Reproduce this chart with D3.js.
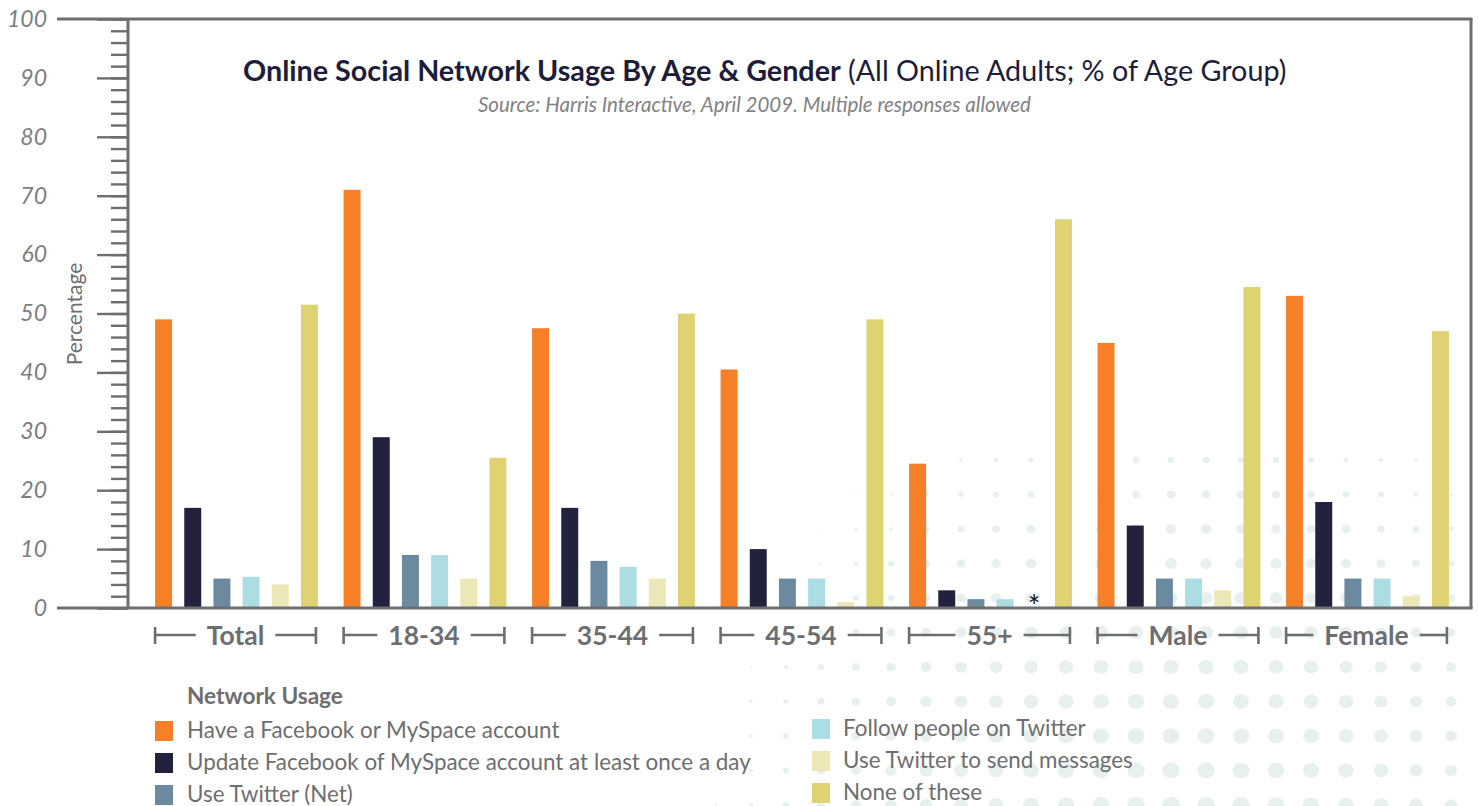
<!DOCTYPE html>
<html>
<head>
<meta charset="utf-8">
<script src="https://cdn.jsdelivr.net/npm/d3@7/dist/d3.min.js"></script>
<style>
  html, body { margin: 0; padding: 0; background: #ffffff; }
  svg { display: block; }
  text { font-family: Lato, "Open Sans", sans-serif; }
</style>
</head>
<body>
<svg id="chart" width="1478" height="806"></svg>
<script>
// ---------- DATA ----------
const groups = ["Total", "18-34", "35-44", "45-54", "55+", "Male", "Female"];
const seriesNames = [
  "Have a Facebook or MySpace account",
  "Update Facebook of MySpace account at least once a day",
  "Use Twitter (Net)",
  "Follow people on Twitter",
  "Use Twitter to send messages",
  "None of these"
];
const seriesColors = ["#f58027", "#22223f", "#6b8aa0", "#acdde3", "#ece7b6", "#dfd273"];
const haveAccount   = [49, 71, 47.5, 40.5, 24.5, 45, 53];
const updateDaily   = [17, 29, 17, 10, 3, 14, 18];
const useTwitterNet = [5, 9, 8, 5, 1.5, 5, 5];
const followTwitter = [5.3, 9, 7, 5, 1.5, 5, 5];
const sendMessages  = [4, 5, 5, 1, null, 3, 2];   // null = "*" (less than 0.5%)
const noneOfThese   = [51.5, 25.5, 50, 49, 66, 54.5, 47];
const seriesValues = [haveAccount, updateDaily, useTwitterNet, followTwitter, sendMessages, noneOfThese];
const yMajorTicks = [0, 10, 20, 30, 40, 50, 60, 70, 80, 90, 100];
const yMinorTicks = d3.range(0, 101, 2);
const titleBold = "Online Social Network Usage By Age & Gender";
const titleRest = " (All Online Adults; % of Age Group)";
const subtitle = "Source: Harris Interactive, April 2009. Multiple responses allowed";
const yTitle = "Percentage";
const legendTitle = "Network Usage";

// ---------- LAYOUT ----------
const svg = d3.select("#chart");
const axisX = 128, frameLeft = 57, frameRight = 1471, plotTop = 19, plotBase = 608;
const gray = "#6d6e71";

const y = d3.scaleLinear().domain([0, 100]).range([plotBase, plotTop]);
const x0 = d3.scaleBand().domain(groups).range([142.25, 1461.75]).padding(0);
const x1 = d3.scaleBand().domain(d3.range(seriesNames.length))
  .range([0, x0.bandwidth()]).paddingInner(0.418).paddingOuter(0.44);

// ---------- BACKGROUND DOTS ----------
const dotG = svg.append("g");
const dotXs = d3.range(681, 1480, 35);
const dotYs = d3.range(460, 812, 34.5);
const cX = 1180, cY = 850, R = 500, rMax = 8.5;
dotYs.forEach(dy => dotXs.forEach(dx => {
  const d = Math.hypot(dx - cX, dy - cY);
  const r = rMax * (1 - (d / R) * (d / R));
  if (r > 0.6) {
    dotG.append("ellipse").attr("cx", dx).attr("cy", dy)
      .attr("rx", r * 1.04).attr("ry", r * 0.96).attr("fill", "#e8efef");
  }
}));

// ---------- BARS ----------
const barData = [];
groups.forEach((g, gi) => seriesValues.forEach((vals, si) => {
  barData.push({ g, si, v: vals[gi] });
}));
svg.append("g").selectAll("rect").data(barData.filter(d => d.v !== null)).join("rect")
  .attr("x", d => x0(d.g) + x1(d.si))
  .attr("y", d => y(d.v))
  .attr("width", x1.bandwidth())
  .attr("height", d => y(0) - y(d.v))
  .attr("fill", d => seriesColors[d.si]);
svg.append("g").selectAll("text").data(barData.filter(d => d.v === null)).join("text")
  .attr("x", d => x0(d.g) + x1(d.si) + x1.bandwidth() / 2)
  .attr("y", 617)
  .attr("text-anchor", "middle")
  .attr("font-family", "DejaVu Sans, sans-serif")
  .attr("font-size", 30).attr("fill", "#1a1a1a")
  .text("*");

// ---------- AXES / FRAME ----------
const minorAxis = d3.axisLeft(y).tickValues(yMinorTicks).tickSize(17).tickFormat("");
const gMinor = svg.append("g").attr("transform", `translate(${axisX},0)`).call(minorAxis);
gMinor.select(".domain").remove();
gMinor.selectAll("line").attr("stroke", gray).attr("stroke-width", 2.4);

const majorAxis = d3.axisLeft(y).tickValues(yMajorTicks).tickSize(31).tickPadding(50)
  .tickFormat(d3.format("d"));
const gMajor = svg.append("g").attr("transform", `translate(${axisX},0)`).call(majorAxis);
gMajor.select(".domain").remove();
gMajor.selectAll("line").attr("stroke", gray).attr("stroke-width", 2.4);
gMajor.selectAll("text").attr("font-family", "Lato, sans-serif").attr("font-style", "italic")
  .attr("font-size", 23).attr("fill", "#7d7e81");

const frame = svg.append("g").attr("stroke", gray).attr("stroke-width", 3).attr("fill", "none");
frame.append("line").attr("x1", axisX).attr("x2", axisX).attr("y1", plotTop).attr("y2", plotBase);
frame.append("line").attr("x1", frameLeft).attr("x2", frameRight + 1.5).attr("y1", plotTop).attr("y2", plotTop);
frame.append("line").attr("x1", frameLeft).attr("x2", frameRight + 1.5).attr("y1", plotBase).attr("y2", plotBase);
frame.append("line").attr("x1", frameRight).attr("x2", frameRight).attr("y1", plotTop).attr("y2", plotBase);

// ---------- GROUP LABELS WITH BRACKETS ----------
const labG = svg.append("g");
groups.forEach(g => {
  const left = x0(g) + x1(0);
  const right = x0(g) + x1(seriesNames.length - 1) + x1.bandwidth() - 2;
  const mid = (left + right) / 2;
  const t = labG.append("text").attr("x", mid).attr("y", 645)
    .attr("text-anchor", "middle").attr("font-weight", 700).attr("font-size", 26.5)
    .attr("fill", gray).text(g);
  const w = t.node().getComputedTextLength();
  const gap = 11, ly = 635;
  const br = labG.append("g").attr("stroke", gray).attr("stroke-width", 2.6);
  br.append("line").attr("x1", left).attr("x2", left).attr("y1", 627).attr("y2", 644);
  br.append("line").attr("x1", left).attr("x2", mid - w / 2 - gap).attr("y1", ly).attr("y2", ly);
  br.append("line").attr("x1", right).attr("x2", right).attr("y1", 627).attr("y2", 644);
  br.append("line").attr("x1", mid + w / 2 + gap).attr("x2", right).attr("y1", ly).attr("y2", ly);
});

// ---------- TITLES ----------
function fitFont(sel, target, start) {
  sel.attr("font-size", start);
  const w = sel.node().getComputedTextLength();
  const fs = start * target / w;
  sel.attr("font-size", fs);
  return fs;
}
const title = svg.append("text").attr("x", 243).attr("y", 81).attr("fill", "#1d1d3b");
title.append("tspan").attr("font-weight", 700).text(titleBold);
title.append("tspan").attr("font-weight", 400).text(titleRest);
fitFont(title, 1044, 24);

const sub = svg.append("text").attr("x", 478).attr("y", 112).attr("fill", "#818285")
  .attr("font-style", "italic").text(subtitle);
fitFont(sub, 553, 17);

svg.append("text").attr("transform", "translate(82,314) rotate(-90)")
  .attr("text-anchor", "middle").attr("font-size", 21).attr("fill", gray).text(yTitle);

// ---------- LEGEND ----------
const legT = svg.append("text").attr("x", 187).attr("y", 704).attr("font-weight", 700)
  .attr("fill", gray).text(legendTitle);
fitFont(legT, 156, 19);

const legendPos = [
  { sx: 155, tx: 187, cy: 731 },
  { sx: 155, tx: 187, cy: 763 },
  { sx: 155, tx: 187, cy: 795 },
  { sx: 812, tx: 843, cy: 729 },
  { sx: 812, tx: 843, cy: 761 },
  { sx: 812, tx: 843, cy: 793 }
];
const probe = svg.append("text").attr("font-size", 20).text(seriesNames[1]);
const legendFs = fitFont(probe, 564, 20);
probe.remove();
const leg = svg.append("g");
seriesNames.forEach((name, i) => {
  const p = legendPos[i];
  leg.append("rect").attr("x", p.sx).attr("y", p.cy - 10).attr("width", 18).attr("height", 20)
    .attr("fill", seriesColors[i]);
  leg.append("text").attr("x", p.tx).attr("y", p.cy + 7).attr("font-size", legendFs)
    .attr("fill", gray).text(name);
});
</script>
</body>
</html>
